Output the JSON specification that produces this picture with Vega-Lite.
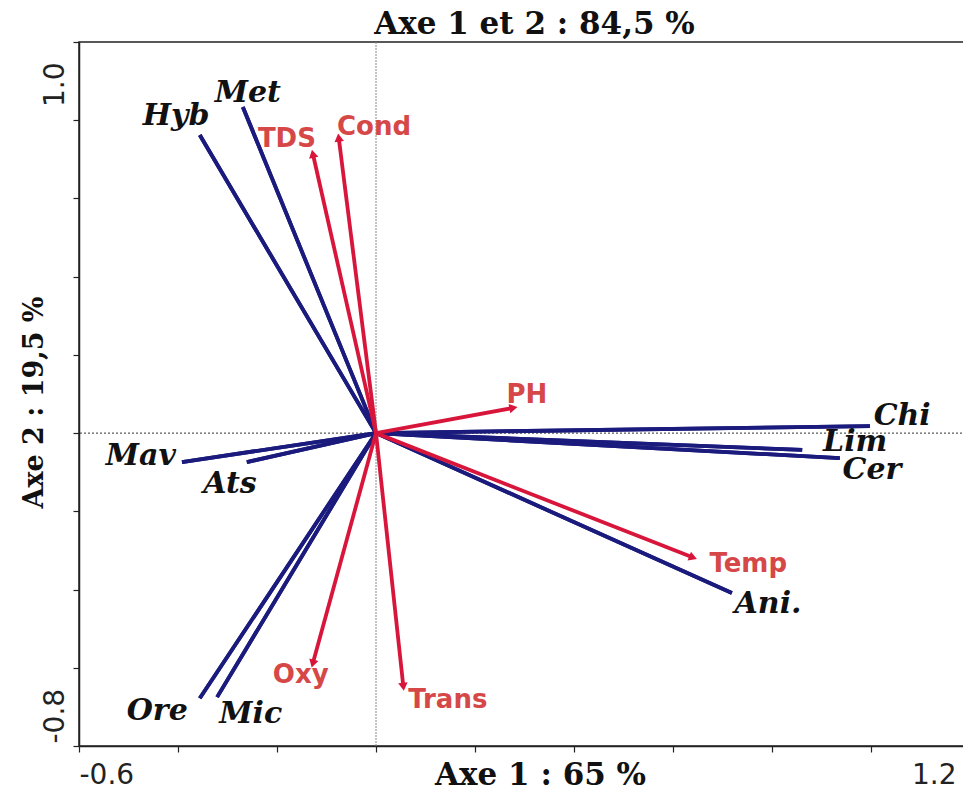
{
  "$schema": "https://vega.github.io/schema/vega-lite/v6.json",
  "width": 891,
  "height": 704,
  "autosize": "none",
  "padding": {"left": 79, "top": 42, "right": 0, "bottom": 46},
  "background": "white",
  "title": {"text": "Axe 1 et 2 : 84,5 %", "font": "DejaVu Serif", "fontSize": 31, "fontWeight": "bold", "color": "#111", "anchor": "middle", "baseline": "alphabetic", "offset": 7, "dx": 10, "dy": 31},
  "config": {
    "view": {"stroke": "#222", "strokeWidth": 1.5},
    "axis": {"domainColor": "#222", "domainWidth": 1.5, "tickColor": "#222", "tickWidth": 1.2, "labelColor": "#222", "titleColor": "#111", "grid": false}
  },
  "datasets": {
    "vec": [
      {"name": "Hyb", "g": "sp", "x": -0.356, "y": 0.762, "lx": -0.404, "ly": 0.788},
      {"name": "Met", "g": "sp", "x": -0.269, "y": 0.834, "lx": -0.259, "ly": 0.847},
      {"name": "Mav", "g": "sp", "x": -0.392, "y": -0.074, "lx": -0.475, "ly": -0.082},
      {"name": "Ats", "g": "sp", "x": -0.261, "y": -0.074, "lx": -0.295, "ly": -0.153},
      {"name": "Ore", "g": "sp", "x": -0.356, "y": -0.678, "lx": -0.442, "ly": -0.734},
      {"name": "Mic", "g": "sp", "x": -0.321, "y": -0.675, "lx": -0.253, "ly": -0.742},
      {"name": "Chi", "g": "sp", "x": 0.998, "y": 0.018, "lx": 1.063, "ly": 0.020},
      {"name": "Lim", "g": "sp", "x": 0.861, "y": -0.043, "lx": 0.968, "ly": -0.045},
      {"name": "Cer", "g": "sp", "x": 0.937, "y": -0.064, "lx": 1.002, "ly": -0.117},
      {"name": "Ani.", "g": "sp", "x": 0.719, "y": -0.409, "lx": 0.792, "ly": -0.460},
      {"name": "TDS", "g": "env", "x": -0.127, "y": 0.711, "lx": -0.180, "ly": 0.731},
      {"name": "Cond", "g": "env", "x": -0.075, "y": 0.752, "lx": -0.004, "ly": 0.762},
      {"name": "PH", "g": "env", "x": 0.275, "y": 0.064, "lx": 0.305, "ly": 0.077},
      {"name": "Temp", "g": "env", "x": 0.638, "y": -0.317, "lx": 0.752, "ly": -0.355},
      {"name": "Oxy", "g": "env", "x": -0.127, "y": -0.586, "lx": -0.152, "ly": -0.639},
      {"name": "Trans", "g": "env", "x": 0.055, "y": -0.645, "lx": 0.145, "ly": -0.703}
    ]
  },
  "data": {"name": "vec"},
  "layer": [
    {
      "transform": [{"filter": "datum.g == 'sp'"}],
      "mark": {"type": "rule", "color": "#1b1b7d", "strokeWidth": 3.8},
      "encoding": {
        "x": {"field": "x", "type": "quantitative", "scale": {"domain": [-0.6, 1.2], "nice": false, "zero": false},
          "axis": {"values": [-0.6, -0.4, -0.2, 0, 0.2, 0.4, 0.6, 0.8, 1.0, 1.2],
            "labelExpr": "abs(datum.value + 0.6) < 0.001 ? '-0.6' : (abs(datum.value - 1.2) < 0.001 ? '1.2' : '')",
            "labelAlign": {"condition": {"test": "datum.value < 0", "value": "left"}, "value": "right"},
            "labelOffset": {"condition": {"test": "datum.value > 1", "value": -14}, "value": 0},
            "labelFont": "DejaVu Sans", "labelFontSize": 28, "labelBaseline": "top", "labelPadding": 9, "tickSize": 6,
            "labelOverlap": false, "labelFlush": false,
            "title": "Axe 1 : 65 %", "titleFont": "DejaVu Serif", "titleFontSize": 31, "titleFontWeight": "bold",
            "titleX": 461, "titleY": 38, "titleAlign": "center", "titleBaseline": "alphabetic"}},
        "y": {"field": "y", "type": "quantitative", "scale": {"domain": [-0.8, 1.0], "nice": false, "zero": false},
          "axis": {"values": [-0.8, -0.6, -0.4, -0.2, 0, 0.2, 0.4, 0.6, 0.8, 1.0],
            "labelExpr": "abs(datum.value + 0.8) < 0.001 ? '-0.8' : (abs(datum.value - 1.0) < 0.001 ? '1.0' : '')",
            "labelAngle": -90,
            "labelAlign": {"condition": {"test": "datum.value > 0", "value": "right"}, "value": "left"},
            "labelOffset": {"condition": {"test": "datum.value > 0", "value": 20}, "value": -3},
            "labelBaseline": "alphabetic", "labelPadding": 10, "tickSize": 6,
            "labelFont": "DejaVu Sans", "labelFontSize": 28, "labelOverlap": false, "labelFlush": false,
            "title": "Axe 2 : 19,5 %", "titleFont": "DejaVu Serif", "titleFontSize": 27, "titleFontWeight": "bold",
            "titleAngle": -90, "titleX": -37, "titleY": 360, "titleAlign": "center", "titleBaseline": "alphabetic"}},
        "x2": {"datum": 0},
        "y2": {"datum": 0}
      }
    },
    {
      "data": {"values": [{"k": 1}]},
      "mark": {"type": "rule", "color": "#333", "strokeDash": [2, 2], "strokeWidth": 1},
      "encoding": {"y": {"datum": 0, "type": "quantitative"}}
    },
    {
      "data": {"values": [{"k": 1}]},
      "mark": {"type": "rule", "color": "#888", "strokeDash": [2, 1], "strokeWidth": 1},
      "encoding": {"x": {"datum": 0, "type": "quantitative"}}
    },
    {
      "transform": [{"filter": "datum.g == 'sp'"}],
      "mark": {"type": "rule", "color": "#1b1b7d", "strokeWidth": 3.8},
      "encoding": {
        "x": {"field": "x", "type": "quantitative"},
        "y": {"field": "y", "type": "quantitative"},
        "x2": {"datum": 0},
        "y2": {"datum": 0}
      }
    },
    {
      "transform": [{"filter": "datum.g == 'env'"}],
      "mark": {"type": "rule", "color": "#d8163c", "strokeWidth": 3.8},
      "encoding": {
        "x": {"field": "x", "type": "quantitative"},
        "y": {"field": "y", "type": "quantitative"},
        "x2": {"datum": 0},
        "y2": {"datum": 0}
      }
    },
    {
      "transform": [{"filter": "datum.g == 'env'"}, {"calculate": "atan2(datum.x * 495, datum.y * 391) * 180 / PI", "as": "ang"}],
      "mark": {"type": "point", "shape": "triangle", "filled": true, "color": "#d8163c", "opacity": 1, "size": 90},
      "encoding": {
        "x": {"field": "x", "type": "quantitative"},
        "y": {"field": "y", "type": "quantitative"},
        "angle": {"field": "ang", "type": "quantitative", "scale": null}
      }
    },
    {
      "transform": [{"filter": "datum.g == 'sp'"}],
      "mark": {"type": "text", "font": "DejaVu Serif", "fontSize": 30, "fontWeight": "bold", "fontStyle": "italic", "color": "#111", "align": "center", "baseline": "alphabetic"},
      "encoding": {
        "x": {"field": "lx", "type": "quantitative"},
        "y": {"field": "ly", "type": "quantitative"},
        "text": {"field": "name"}
      }
    },
    {
      "transform": [{"filter": "datum.g == 'env'"}],
      "mark": {"type": "text", "font": "DejaVu Sans", "fontSize": 26, "fontWeight": "bold", "color": "#d64848", "align": "center", "baseline": "alphabetic"},
      "encoding": {
        "x": {"field": "lx", "type": "quantitative"},
        "y": {"field": "ly", "type": "quantitative"},
        "text": {"field": "name"}
      }
    }
  ]
}
